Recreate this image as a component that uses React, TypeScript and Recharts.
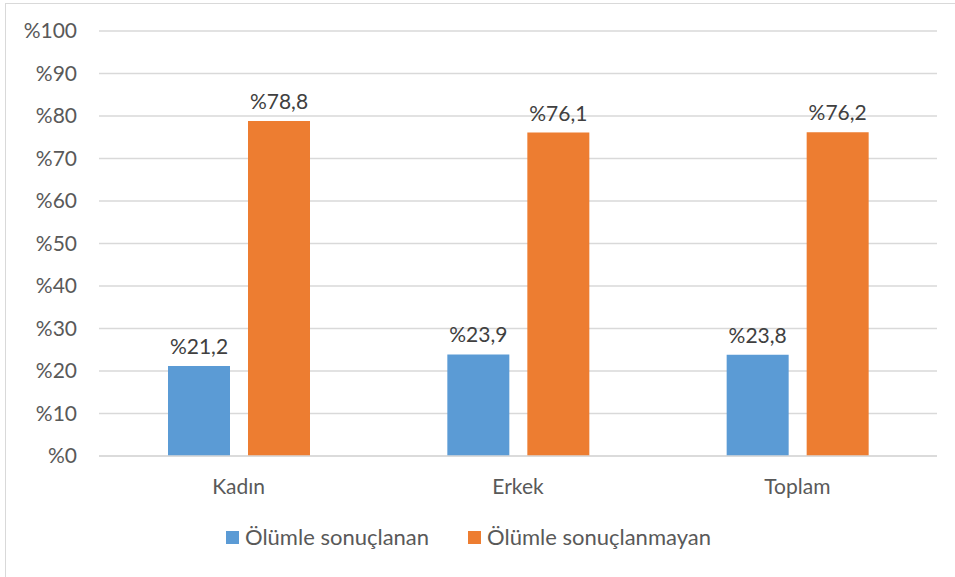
import React from "react"
import { BarChart, Bar, XAxis, YAxis, CartesianGrid, Legend, LabelList } from "recharts"

const categories = ["Kadın", "Erkek", "Toplam"]
const olumleSonuclanan = [21.2, 23.9, 23.8]
const olumleSonuclanmayan = [78.8, 76.1, 76.2]
const yTicks = [0, 10, 20, 30, 40, 50, 60, 70, 80, 90, 100]

const seriesNames = ["Ölümle sonuçlanan", "Ölümle sonuçlanmayan"]
const colors = ["#5B9BD5", "#ED7D31"]

const data = categories.map((name, i) => ({
  name,
  a: olumleSonuclanan[i],
  b: olumleSonuclanmayan[i],
}))

const font = "Lato, 'Noto Sans', sans-serif"
const pct = (v: number) => "%" + String(v).replace(".", ",")

function LegendContent() {
  return (
    <div
      style={{
        position: "relative",
        top: -3,
        display: "flex",
        justifyContent: "center",
        gap: 39,
        fontFamily: font,
        fontSize: 22,
        lineHeight: "26px",
        color: "#595959",
      }}
    >
      {seriesNames.map((n, i) => (
        <div key={n} style={{ display: "flex", alignItems: "center" }}>
          <span style={{ display: "inline-block", width: 13, height: 13, background: colors[i], marginRight: 6 }} />
          <span>{n}</span>
        </div>
      ))}
    </div>
  )
}

export default function App() {
  return (
    <div style={{ position: "fixed", left: 0, top: 0, width: 955, height: 577, overflow: "hidden", background: "#fff" }}>
      <div style={{ position: "absolute", left: 5, top: 3, width: 980, height: 600, border: "1px solid #D9D9D9" }} />
      <div style={{ position: "absolute", left: 0, top: 0 }}>
        <BarChart
          width={955}
          height={577}
          data={data}
          margin={{ top: 31, right: 18, left: 0, bottom: 14 }}
          barGap={18}
          barSize={62}
        >
          <CartesianGrid vertical={false} stroke="#D9D9D9" strokeWidth={1.5} />
          <XAxis
            dataKey="name"
            height={66}
            axisLine={{ stroke: "#D9D9D9", strokeWidth: 1.5 }}
            tickLine={false}
            tickSize={0}
            tickMargin={23}
            tick={{ fill: "#595959", fontSize: 21, fontFamily: font }}
          />
          <YAxis
            width={99}
            domain={[0, 100]}
            ticks={yTicks}
            interval={0}
            axisLine={false}
            tickLine={false}
            tickSize={0}
            tickMargin={22}
            tickFormatter={(v: number) => "%" + v}
            tick={{ fill: "#595959", fontSize: 21, fontFamily: font }}
          />
          <Legend verticalAlign="bottom" height={36} content={<LegendContent />} wrapperStyle={{ paddingTop: 5 }} />
          <Bar dataKey="a" name={seriesNames[0]} fill={colors[0]} isAnimationActive={false}>
            <LabelList dataKey="a" position="top" offset={12} formatter={pct} fill="#404040" fontSize={21} fontFamily={font} />
          </Bar>
          <Bar dataKey="b" name={seriesNames[1]} fill={colors[1]} isAnimationActive={false}>
            <LabelList dataKey="b" position="top" offset={12} formatter={pct} fill="#404040" fontSize={21} fontFamily={font} />
          </Bar>
        </BarChart>
      </div>
    </div>
  )
}
